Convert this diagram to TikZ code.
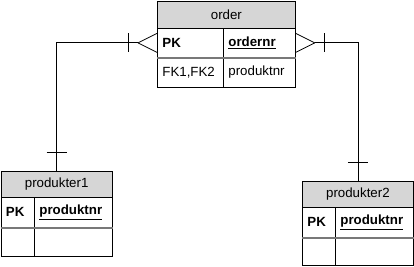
\documentclass[tikz,border=0pt]{standalone}
\usepackage{fontspec}
\setmainfont{Liberation Sans}
\usetikzlibrary{calc}
\definecolor{hdrgray}{RGB}{214,214,214}
\definecolor{sepgray}{RGB}{120,120,120}
\begin{document}
\begin{tikzpicture}[x=1pt,y=-1pt,
  txt/.style={font=\fontsize{13.3}{15}\selectfont},
  hdr/.style={txt, draw=black, line width=0.8pt, fill=hdrgray, anchor=north west, inner sep=0pt, align=center},
  cell/.style={txt, draw=black, line width=0.8pt, anchor=north west, inner xsep=5pt, inner ysep=0pt, align=left},
  sep/.style={draw=sepgray, line width=1.6pt},
  conn/.style={draw=black, line width=0.8pt}]
\useasboundingbox (0,0) rectangle (414,267);

% order table
\node[hdr, minimum width=138, minimum height=27] (oh) at (157,1) {order};
\node[cell, minimum height=29, text width=56] (opk) at (157,28) {\textbf{PK}};
\node[cell, minimum height=29, text width=62] (okey) at (223,28) {\underline{\textbf{ordernr}}};
\node[cell, minimum height=30, text width=56] (ofk) at (157,57) {FK1,FK2};
\node[cell, minimum height=30, text width=62] (oval) at (223,57) {produktnr};
\draw[sep] (opk.south west) -- (okey.south east);

% produkter1
\node[hdr, minimum width=111.5, minimum height=26] (p1h) at (0.5,171) {produkter1};
\node[cell, minimum height=30, text width=23.5] (p1pk) at (0.5,197) {\textbf{PK}};
\node[cell, minimum height=30, text width=68] (p1key) at (34,197) {\underline{\textbf{produktnr}}};
\node[cell, minimum height=29, text width=23.5] (p1a) at (0.5,227) {};
\node[cell, minimum height=29, text width=68] (p1b) at (34,227) {};
\draw[sep] (p1pk.south west) -- (p1key.south east);

% produkter2
\node[hdr, minimum width=111, minimum height=26] (p2h) at (302,181) {produkter2};
\node[cell, minimum height=30, text width=23] (p2pk) at (302,207) {\textbf{PK}};
\node[cell, minimum height=30, text width=68] (p2key) at (335,207) {\underline{\textbf{produktnr}}};
\node[cell, minimum height=28, text width=23] (p2a) at (302,237) {};
\node[cell, minimum height=28, text width=68] (p2b) at (335,237) {};
\draw[sep] (p2pk.south west) -- (p2key.south east);

% left connector
\coordinate (apL) at ($(opk.west)+(-19,0)$);
\coordinate (cL) at (p1h.north |- apL);
\draw[conn] (apL) -- ($(opk.west)+(0,-9.5)$);
\draw[conn] (apL) -- ($(opk.west)+(0,9.5)$);
\draw[conn] (apL) -- (cL) -- (p1h.north);
\draw[conn] ($(apL)+(-10,-9.5)$) -- ($(apL)+(-10,9.5)$);
\draw[conn] ($(p1h.north)+(-10,-19)$) -- ($(p1h.north)+(10,-19)$);

% right connector
\coordinate (apR) at ($(okey.east)+(19,0)$);
\coordinate (cR) at (p2h.north |- apR);
\draw[conn] (apR) -- ($(okey.east)+(0,-9.5)$);
\draw[conn] (apR) -- ($(okey.east)+(0,9.5)$);
\draw[conn] (apR) -- (cR) -- (p2h.north);
\draw[conn] ($(apR)+(10,-9.5)$) -- ($(apR)+(10,9.5)$);
\draw[conn] ($(p2h.north)+(-10,-19)$) -- ($(p2h.north)+(10,-19)$);
\end{tikzpicture}
\end{document}
